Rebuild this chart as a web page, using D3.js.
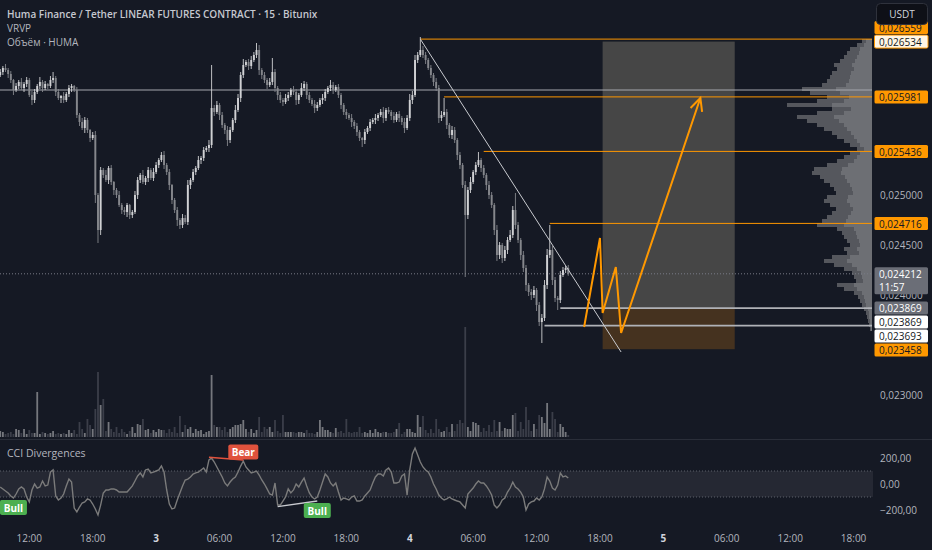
<!DOCTYPE html>
<html><head><meta charset="utf-8">
<script src="https://cdn.jsdelivr.net/npm/d3@7"></script>
<style>
html,body{margin:0;padding:0;background:#151924;overflow:hidden;}
svg{display:block;font-family:"Open Sans","Noto Sans",sans-serif;}
</style></head><body>
<svg id="c" width="932" height="550"></svg>
<script>
// ---------------- DATA ----------------
const firstCandle = "2025-06-02T09:15:00";   // 15-minute candles
const firstOpen = 0.02620;
const closes = [
0.02623,0.02627,0.02625,0.02621,0.02615,0.02605,0.02609,0.02613,0.02607,0.02611,
0.02615,0.02600,0.02595,0.02603,0.02609,0.02613,0.02607,0.02611,0.02609,0.02615,
0.02617,0.02603,0.02597,0.02599,0.02595,0.02601,0.02607,0.02609,0.02605,0.02580,
0.02573,0.02567,0.02575,0.02565,0.02557,0.02560,0.02500,0.02465,0.02525,0.02520,
0.02515,0.02527,0.02513,0.02505,0.02500,0.02490,0.02485,0.02483,0.02490,0.02480,
0.02483,0.02500,0.02515,0.02520,0.02513,0.02517,0.02525,0.02517,0.02523,0.02530,
0.02535,0.02540,0.02530,0.02523,0.02510,0.02495,0.02485,0.02475,0.02470,0.02477,
0.02473,0.02510,0.02515,0.02523,0.02527,0.02535,0.02537,0.02545,0.02547,0.02550,
0.02587,0.02583,0.02590,0.02580,0.02570,0.02565,0.02555,0.02565,0.02575,0.02585,
0.02597,0.02620,0.02630,0.02633,0.02629,0.02635,0.02640,0.02645,0.02625,0.02620,
0.02615,0.02610,0.02613,0.02623,0.02607,0.02600,0.02595,0.02593,0.02597,0.02600,
0.02605,0.02603,0.02595,0.02600,0.02607,0.02611,0.02600,0.02595,0.02591,0.02587,
0.02590,0.02595,0.02597,0.02603,0.02607,0.02610,0.02605,0.02608,0.02600,0.02590,
0.02583,0.02580,0.02577,0.02573,0.02569,0.02563,0.02557,0.02555,0.02563,0.02567,
0.02573,0.02575,0.02577,0.02580,0.02583,0.02577,0.02585,0.02583,0.02579,0.02575,
0.02581,0.02577,0.02573,0.02567,0.02577,0.02595,0.02600,0.02635,0.02640,0.02645,
0.02640,0.02635,0.02627,0.02620,0.02613,0.02607,0.02577,0.02580,0.02583,0.02570,
0.02560,0.02565,0.02555,0.02540,0.02530,0.02510,0.02480,0.02505,0.02513,0.02523,
0.02530,0.02535,0.02527,0.02520,0.02510,0.02500,0.02490,0.02465,0.02440,0.02450,
0.02437,0.02445,0.02455,0.02460,0.02485,0.02470,0.02455,0.02440,0.02427,0.02410,
0.02403,0.02400,0.02405,0.02390,0.02373,0.02377,0.02410,0.02440,0.02445,0.02415,
0.02397,0.02395,0.02420,0.02425,0.02427,0.024212];
// upper / lower wick lengths in 0.00001 USDT
const upWick = [
3,2,4,2,3,1,3,2,4,2, 3,2,4,3,2,5,2,3,1,4, 6,2,3,1,4,2,3,2,1,3, 2,4,3,2,1,3,4,2,3,2,
5,2,3,1,2,4,2,3,2,1, 2,4,3,2,5,2,3,2,4,3, 2,3,4,2,3,1,2,3,2,4, 3,5,2,3,2,4,2,3,2,5,
43,3,4,2,3,2,4,3,2,5, 4,3,6,2,3,4,3,7,5,2, 3,2,4,14,3,2,3,2,4,3, 2,4,3,2,5,3,2,3,2,4,
3,2,4,3,2,5,3,2,3,2, 2,3,2,4,2,3,2,1,3,2, 3,2,4,2,3,5,2,3,2,4, 2,3,2,4,3,6,4,5,3,13,
4,3,2,3,2,4,3,4,14,3, 2,4,3,2,3,2,4,3,5,2, 3,8,2,3,2,4,3,2,5,3, 2,4,3,5,4,17,3,2,4,3,
2,3,4,2,3,4,5,6,25,4, 3,2,4,3,2,3];
const dnWick = [
2,3,2,4,3,5,2,3,2,4, 3,2,5,3,2,3,4,2,3,2, 3,4,2,5,3,2,3,4,2,3, 4,2,5,3,4,2,8,13,5,3,
2,4,3,5,3,2,4,3,5,4, 3,2,4,3,2,3,4,2,3,2, 3,2,4,3,5,4,3,6,4,3, 2,3,4,2,3,2,4,3,2,4,
3,4,2,5,3,4,6,3,2,3, 2,4,3,2,4,3,2,3,5,4, 3,4,2,3,4,5,3,4,2,3, 2,3,5,4,2,3,4,3,2,5,
3,2,4,3,2,3,4,2,3,4, 3,4,2,5,3,4,3,7,4,2, 3,2,4,3,2,5,3,2,4,3, 2,4,3,5,2,3,4,2,3,2,
3,4,2,3,4,3,5,3,2,4, 3,4,3,5,4,3,62,4,3,2, 3,2,4,3,5,4,3,5,6,4, 5,3,4,2,3,4,3,5,4,6,
4,5,3,6,4,21,3,4,3,5, 4,10,3,2,3,2];
// volume (thousand HUMA)
const volume = [
6,5,3,4,5,3,8,7,4,8, 3,7,4,4,45,3,5,4,3,4, 6,3,4,3,4,3,7,4,7,3, 15,8,4,18,12,8,28,65,32,38,
6,15,8,5,10,4,8,5,3,6, 10,4,13,12,18,7,8,4,7,5, 8,7,7,4,8,5,10,4,21,5, 12,8,10,4,8,6,7,3,5,6,
62,12,10,10,7,10,5,8,10,12, 12,13,17,8,5,8,4,7,20,5, 10,8,10,5,17,6,4,22,5,5, 5,5,4,5,5,4,7,4,4,3,
5,17,10,7,7,5,4,9,5,6, 4,18,5,4,5,5,10,4,5,4, 7,4,8,5,4,5,5,4,4,5, 8,14,3,5,8,8,5,4,22,10,
21,7,4,8,4,18,8,5,6,10, 5,13,6,13,17,14,110,10,6,15, 14,12,5,9,6,12,5,17,6,15, 6,9,8,8,22,24,6,15,8,30,
17,6,13,8,22,20,14,34,8,25, 18,5,13,10,5,2];
// CCI values
const cci = [
-23,-38,-54,-69,-92,-108,-77,-38,-23,-38, -100,-138,-46,0,-31,-23,23,-15,-8,92,
108,-92,-123,-108,-77,-15,38,15,-185,-215, -177,-146,-138,-115,-123,-154,-192,-238,-162,-69,
-46,-46,-38,-38,-46,-62,-62,-62,-62,-38, -15,23,62,85,54,108,115,85,92,100,
108,138,92,-46,-154,-192,-185,-123,-69,-15, 31,38,54,77,85,92,108,123,92,185,
200,169,131,92,54,8,-15,15,38,54, 92,138,177,131,108,85,92,100,69,31,
0,-38,-77,-85,8,-162,-162,-131,-100,-38, -69,-46,0,-23,15,46,-15,-69,-100,-115,
-100,-46,15,77,54,8,-15,8,-62,-123, -108,-115,-123,-100,-92,-131,-131,-123,-92,-69,
-46,8,54,77,77,62,108,123,92,8, 8,15,62,77,-85,108,231,277,223,169,
131,108,92,54,0,-38,-85,-108,-123,-115, -100,-115,-123,-131,-138,-162,-185,-77,-54,-31,
0,23,8,8,-15,-46,-85,-162,-185,-162, -123,-108,-62,-31,15,-23,-38,-62,-100,-200,
-154,-138,-131,-108,-123,-100,-38,54,23,-31, -46,-8,85,54,62,46];
// CCI divergences (candle index, CCI value)
const divergences = [
  {type:"Bull", from:null, to:[5,-108]},
  {type:"Bear", from:[79,205], to:[92,185]},
  {type:"Bull", from:[105,-174], to:[120,-131]}
];
// Visible range volume profile: rows of 0.00004 starting at 0.02364
const vpStart = 0.02364, vpStep = 0.00004;
const vpTotal = [2,3,4,5,6,8,10,12,14,18, 28,35,16,18,20,28,38,48,40,25, 28,22,25,28,30,35,55,50,45,40,
  36,42,48,45,36,38,42,48,52,60, 58,45,35,28,22,15,22,28,35,40, 48,55,65,75,55,40,85,55,45,62,
  70,50,45,42,40,35,38,32,28,25, 22,15,10];
const vpUp = [1,2,2,3,3,4,6,7,8,10, 15,18,9,10,11,15,20,25,22,13, 15,12,13,15,16,18,28,26,24,21,
  19,22,25,24,19,20,22,25,27,31, 30,24,18,15,12,8,12,15,18,21, 25,28,33,38,28,21,40,28,23,32,
  36,26,23,22,21,18,20,17,15,13, 12,8,6];
// drawings
const hLevels = [
  {from:null,               price:0.02605,  kind:"gray"},
  {from:"2025-06-04T01:00", price:0.026559, kind:"orange"},
  {from:"2025-06-04T03:15", price:0.025981, kind:"orange"},
  {from:"2025-06-04T07:00", price:0.025436, kind:"orange"},
  {from:"2025-06-04T13:15", price:0.024716, kind:"orange"},
  {from:"2025-06-04T14:15", price:0.023869, kind:"white"},
  {from:"2025-06-04T12:45", price:0.023693, kind:"white"}
];
const trendLine = [["2025-06-04T01:00",0.026559],["2025-06-04T20:00",0.02343]];
const position = {start:"2025-06-04T18:15", end:"2025-06-05T06:45", target:0.026534, entry:0.023869, stop:0.023458};
const pathTimes  = ["2025-06-04T16:30","2025-06-04T18:00","2025-06-04T18:15","2025-06-04T19:30","2025-06-04T20:00","2025-06-05T03:30"];
const pathPrices = [0.02368,0.02457,0.02382,0.02428,0.02362,0.02597];
const priceTicks = [0.023,0.0235,0.024,0.0245,0.025,0.0255,0.026,0.0265];
const cciTicks = [200,0,-200];
const priceLabels = [
  {price:0.024212, style:"current", extra:"11:57"},
  {price:0.023869, style:"gray"},
  {price:0.026534, style:"cream"},
  {price:0.026559, style:"orange"},
  {price:0.025981, style:"orange"},
  {price:0.025436, style:"orange"},
  {price:0.024716, style:"orange"},
  {price:0.023869, style:"white"},
  {price:0.023693, style:"white"},
  {price:0.023458, style:"orange"}
];
const titleLines = ["Huma Finance / Tether LINEAR FUTURES CONTRACT · 15 · Bitunix","VRVP","Объём · HUMA"];

// ---------------- CHART ----------------
const svg = d3.select("#c");
const BG = "#151924", ORANGE = "#ff9800", AXIS_TXT = "#b2b5be";
const plotR = 872, priceBottom = 438;
svg.append("rect").attr("width",932).attr("height",550).attr("fill",BG);

const t0 = new Date(firstCandle);
const times = closes.map((_,i)=> new Date(t0.getTime() + i*15*60000));
const x = d3.scaleTime().domain([new Date("2025-06-02T09:15:00"), new Date("2025-06-05T18:00:00")]).range([0.24, 853.6]);
const y = d3.scaleLinear().domain([0.023,0.025]).range([395,195]);
const vy = d3.scaleLinear().domain([0,110]).range([437,327]);
const cy = d3.scaleLinear().domain([-200,200]).range([510,458]);
const pw = d3.scaleLinear().domain([0,100]).range([0,100]);
const T = s => new Date(s);

svg.append("clipPath").attr("id","pc").append("rect").attr("x",0).attr("y",0).attr("width",plotR).attr("height",priceBottom);
const main = svg.append("g").attr("clip-path","url(#pc)");

// position tool
main.append("rect").attr("x",x(T(position.start))).attr("width",x(T(position.end))-x(T(position.start)))
  .attr("y",y(position.target)).attr("height",y(position.entry)-y(position.target)).attr("fill","#464646");
main.append("rect").attr("x",x(T(position.start))).attr("width",x(T(position.end))-x(T(position.start)))
  .attr("y",y(position.entry)).attr("height",y(position.stop)-y(position.entry)).attr("fill","#45321f");

// volume profile
const vpG = main.append("g");
vpTotal.forEach((v,k)=>{
  const p0 = vpStart + k*vpStep, p1 = p0 + vpStep;
  vpG.append("rect").attr("x",plotR - pw(v)).attr("width",pw(v)).attr("y",y(p1)).attr("height",y(p0)-y(p1)).attr("fill","#55575d");
  vpG.append("rect").attr("x",plotR - pw(vpUp[k])).attr("width",pw(vpUp[k])).attr("y",y(p1)).attr("height",y(p0)-y(p1)).attr("fill","#6d6f74");
});

// volume bars
const opens = closes.map((c,i)=> i ? closes[i-1] : firstOpen);
main.append("g").selectAll("rect").data(volume).join("rect")
  .attr("x",(d,i)=>x(times[i])-0.9).attr("width",1.8)
  .attr("y",d=>vy(d)).attr("height",d=>vy(0)-vy(d))
  .attr("fill",(d,i)=> closes[i]>=opens[i] ? "#75777d" : "#3b3e49");

// current price dotted
main.append("line").attr("x1",0).attr("x2",plotR).attr("y1",y(closes[closes.length-1])).attr("y2",y(closes[closes.length-1]))
  .attr("stroke","#787b86").attr("stroke-dasharray","1,2");

// horizontal levels
hLevels.forEach(l=>{
  const x1 = l.from ? x(T(l.from)) : 0;
  const col = l.kind==="orange" ? ORANGE : (l.kind==="gray" ? "#a6a8ae" : "#b0b2b7");
  main.append("line").attr("x1",x1).attr("x2",plotR).attr("y1",y(l.price)).attr("y2",y(l.price))
    .attr("stroke",col).attr("stroke-width", l.kind==="white" ? 1.8 : 1);
});

// candles
const cg = main.append("g");
closes.forEach((c,i)=>{
  const o = opens[i], up = c>=o;
  const hi = Math.max(o,c) + upWick[i]*1e-5, lo = Math.min(o,c) - dnWick[i]*1e-5;
  const col = up ? "#d0d1d4" : "#85878c";
  const cx = x(times[i]);
  cg.append("line").attr("x1",cx).attr("x2",cx).attr("y1",y(hi)).attr("y2",y(lo)).attr("stroke",col).attr("stroke-width",0.9);
  const yt = y(Math.max(o,c)), yb = y(Math.min(o,c));
  cg.append("rect").attr("x",cx-0.95).attr("width",1.9).attr("y",yt).attr("height",Math.max(1,yb-yt)).attr("fill",col);
});

// trend line
main.append("line").attr("x1",x(T(trendLine[0][0]))).attr("y1",y(trendLine[0][1]))
  .attr("x2",x(T(trendLine[1][0]))).attr("y2",y(trendLine[1][1])).attr("stroke","#c9cbd0").attr("stroke-width",1);

// projected path
const pts = pathTimes.map((t,i)=>[x(T(t)), y(pathPrices[i])]);
main.append("path").attr("d",d3.line()(pts)).attr("fill","none").attr("stroke",ORANGE).attr("stroke-width",2).attr("stroke-linejoin","miter");
{
  const a = pts[pts.length-2], b = pts[pts.length-1];
  const ang = Math.atan2(b[1]-a[1], b[0]-a[0]), L = 14, sp = 0.45;
  const p1 = [b[0]-L*Math.cos(ang-sp), b[1]-L*Math.sin(ang-sp)];
  const p2 = [b[0]-L*Math.cos(ang+sp), b[1]-L*Math.sin(ang+sp)];
  main.append("path").attr("d",d3.line()([p1,b,p2])).attr("fill","none").attr("stroke",ORANGE).attr("stroke-width",2);
}

// pane separator
svg.append("line").attr("x1",0).attr("x2",932).attr("y1",439.5).attr("y2",439.5).attr("stroke","#2a2e39");

// CCI pane
svg.append("rect").attr("x",0).attr("width",873).attr("y",cy(100)).attr("height",cy(-100)-cy(100)).attr("fill","#252833");
[100,-100].forEach(v=> svg.append("line").attr("x1",0).attr("x2",873).attr("y1",cy(v)).attr("y2",cy(v))
  .attr("stroke","#5d606b").attr("stroke-dasharray","1,2"));
svg.append("path").attr("d", d3.line().x((d,i)=>x(times[i])).y(d=>cy(d))(cci))
  .attr("fill","none").attr("stroke","#7b7b7b").attr("stroke-width",1.4);
svg.append("text").attr("x",7).attr("y",453).attr("dominant-baseline","central").attr("font-size",10.5).attr("fill",AXIS_TXT).text("CCI Divergences");

divergences.forEach(dv=>{
  const bear = dv.type==="Bear";
  const col = bear ? "#e0523d" : "#4caf50";
  if(dv.from){
    svg.append("line").attr("x1",x(times[dv.from[0]])).attr("y1",cy(dv.from[1]))
      .attr("x2",x(times[dv.to[0]])).attr("y2",cy(dv.to[1]))
      .attr("stroke", bear ? col : "#c9cbd0").attr("stroke-width",1.5);
  }
  const ax = x(times[dv.to[0]]), ay = cy(dv.to[1]);
  const w = bear ? 30 : 27, h = 15;
  const top = bear ? ay - h - 0.5 : ay + 2;
  svg.append("rect").attr("x",ax - w/2).attr("y",top).attr("width",w).attr("height",h).attr("rx",2).attr("fill",col);
  svg.append("text").attr("x",ax).attr("y",top+h/2).attr("text-anchor","middle").attr("dominant-baseline","central")
    .attr("font-size",10).attr("font-weight",700).attr("fill","#ffffff").text(dv.type);
});

// CCI axis
const fmtC = d3.formatLocale({decimal:",",thousands:" ",grouping:[3],currency:["",""],minus:"−"}).format(".2f");
cciTicks.forEach(v=> svg.append("text").attr("x",880).attr("y",cy(v)).attr("dominant-baseline","central")
  .attr("font-size",10).attr("fill",AXIS_TXT).text(fmtC(v)));

// time axis
const ticks = d3.timeHour.every(6).range(new Date("2025-06-02T12:00:00"), new Date("2025-06-05T19:00:00"));
ticks.forEach(t=>{
  const day = t.getHours()===0;
  svg.append("text").attr("x",x(t)).attr("y",538).attr("text-anchor","middle").attr("dominant-baseline","central")
    .attr("font-size",10).attr("font-weight",day?700:400).attr("fill", day ? "#d1d4dc" : AXIS_TXT)
    .text(day ? String(t.getDate()) : d3.timeFormat("%H:%M")(t));
});

// price labels with collision avoidance
const fmtP = d3.formatLocale({decimal:",",thousands:" ",grouping:[3],currency:["",""]}).format(".6f");
const styles = {
  orange:{bg:ORANGE, fg:"#131722", stroke:null},
  cream:{bg:"#fff6e5", fg:"#131722", stroke:ORANGE},
  white:{bg:"#ffffff", fg:"#131722", stroke:null},
  gray:{bg:"#6b6e77", fg:"#ffffff", stroke:null},
  current:{bg:"#6b6e77", fg:"#ffffff", stroke:null}
};
const placed = [];
priceLabels.forEach(l=>{
  const h = l.extra ? 27 : 13;
  let top = l.extra ? y(l.price) - 6.5 : y(l.price) - h/2, bot = top + h;
  for(let g=0; g<20; g++){
    let moved = false;
    for(const p of placed){
      if(top < p.bot + 1 && bot > p.top - 1){
        const c = (top+bot)/2, pc = (p.top+p.bot)/2;
        if(c < pc){ bot = p.top - 1; top = bot - h; } else { top = p.bot + 1; bot = top + h; }
        moved = true;
      }
    }
    if(!moved) break;
  }
  placed.push({top, bot, l, h});
});

// price axis ticks (those fully covered by a price label are not drawn; partly covered ones stay, as in TradingView)
priceTicks.forEach(p=>{
  const yy = y(p);
  const covered = placed.some(b => yy >= b.top && yy <= b.bot);
  if(covered) return;
  svg.append("text").attr("x",880).attr("y",yy).attr("dominant-baseline","central")
    .attr("font-size",10).attr("fill",AXIS_TXT).text(fmtP(p));
});

placed.slice().reverse().forEach(p=>{
  const s = styles[p.l.style];
  svg.append("rect").attr("x",874.5).attr("y",p.top).attr("width",53.5).attr("height",p.h).attr("rx",1.5)
    .attr("fill",s.bg).attr("stroke",s.stroke||"none").attr("stroke-width",1);
  svg.append("text").attr("x",879).attr("y",p.top+6.7).attr("dominant-baseline","central")
    .attr("font-size",10).attr("fill",s.fg).text(fmtP(p.l.price));
  if(p.l.extra) svg.append("text").attr("x",879).attr("y",p.top+20).attr("dominant-baseline","central")
    .attr("font-size",10).attr("fill",s.fg).text(p.l.extra);
});

// USDT button
svg.append("rect").attr("x",876.5).attr("y",3.5).attr("width",51).attr("height",21).attr("rx",4)
  .attr("fill","#0e1017").attr("stroke","#2f323c");
svg.append("text").attr("x",902).attr("y",14).attr("text-anchor","middle").attr("dominant-baseline","central")
  .attr("font-size",10).attr("fill","#d1d4dc").text("USDT");

// legend
titleLines.forEach((t,i)=> svg.append("text").attr("x",7).attr("y",14+i*14).attr("dominant-baseline","central")
  .attr("font-size",10).attr("font-weight",i===0?600:400).attr("fill",i===0?"#c5c8d0":AXIS_TXT).text(t));
</script></body></html>
